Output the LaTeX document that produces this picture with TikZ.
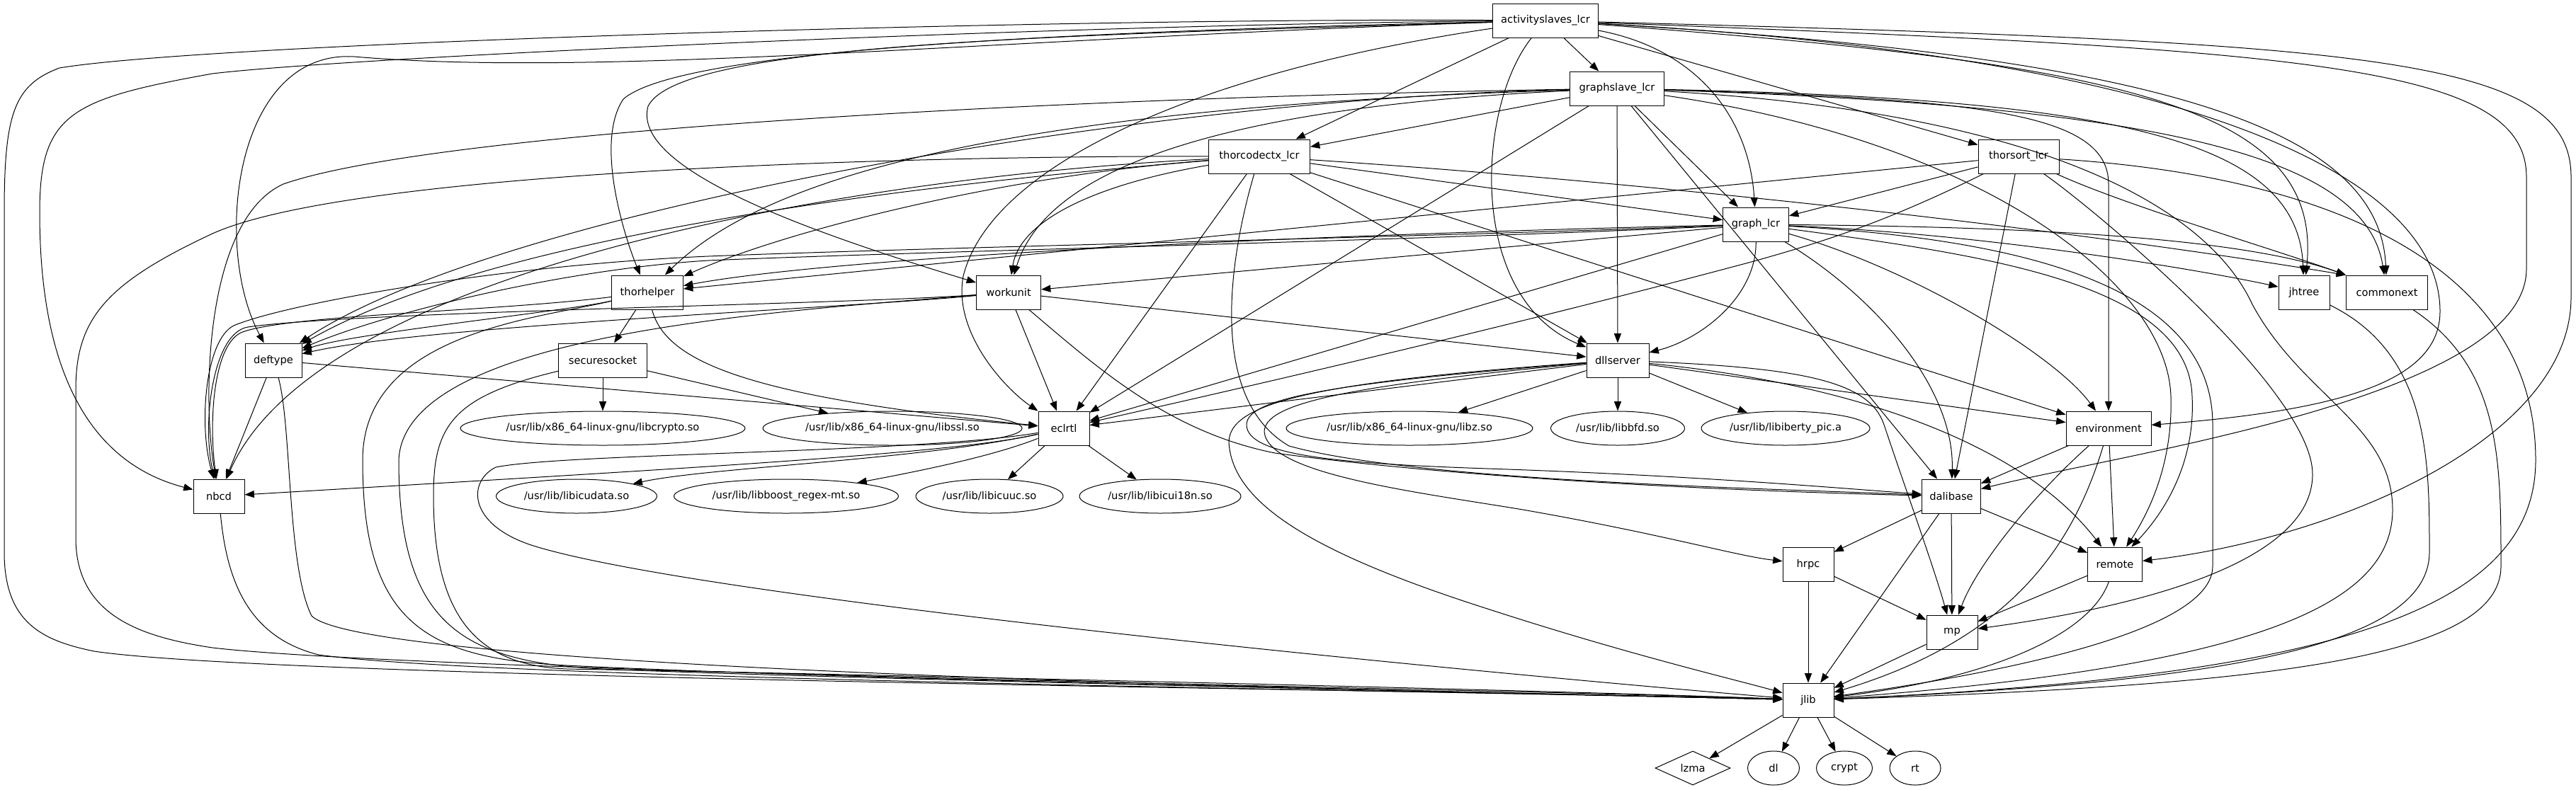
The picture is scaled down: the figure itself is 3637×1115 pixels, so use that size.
\documentclass[tikz,border=0pt]{standalone}
\usepackage{fontspec}
\newfontfamily\gvf{DejaVu Sans}
\usetikzlibrary{shapes.geometric,arrows.meta,calc}
\tikzset{
  gvbox/.style={draw, rectangle, line width=0.75pt, inner sep=0pt, minimum height=36pt, font=\gvf\fontsize{11}{13}\selectfont},
  gvell/.style={draw, ellipse, line width=0.75pt, inner sep=0pt, minimum height=36pt, font=\gvf\fontsize{11}{13}\selectfont},
  gvdia/.style={draw, diamond, aspect=2.2, line width=0.75pt, inner sep=0pt, minimum width=79.5pt, minimum height=36pt, font=\gvf\fontsize{11}{13}\selectfont},
  gvedge/.style={draw, line width=0.75pt, -{Triangle[length=10pt,width=7.5pt]}}
}
\begin{document}
\begin{tikzpicture}[x=0.75pt,y=-0.75pt]
\fill[white] (0,0) rectangle (3637,1115);
\useasboundingbox (0,0) rectangle (3637,1115);
% boxes
\node[gvbox, minimum width=111.75pt] (A)  at (2182,29)  {activityslaves\_lcr};
\node[gvbox, minimum width=99.75pt]  (G)  at (2283,125) {graphslave\_lcr};
\node[gvbox, minimum width=107.25pt] (TC) at (1778,221) {thorcodectx\_lcr};
\node[gvbox, minimum width=85.5pt]   (TS) at (2850,221) {thorsort\_lcr};
\node[gvbox, minimum width=69.75pt]  (GL) at (2479,317) {graph\_lcr};
\node[gvbox, minimum width=75.75pt]  (TH) at (914,413)  {thorhelper};
\node[gvbox, minimum width=68.25pt]  (WU) at (1424,413) {workunit};
\node[gvbox, minimum width=54pt]     (JH) at (3253,413) {jhtree};
\node[gvbox, minimum width=86.25pt]  (CE) at (3370,413) {commonext};
\node[gvbox, minimum width=60pt]     (DT) at (386,509)  {deftype};
\node[gvbox, minimum width=93.75pt]  (SS) at (851,509)  {securesocket};
\node[gvbox, minimum width=66pt]     (DS) at (2284,509) {dllserver};
\node[gvbox, minimum width=54pt]     (EC) at (1502,605) {eclrtl};
\node[gvbox, minimum width=90pt]     (ENV) at (2977,605) {environment};
\node[gvbox, minimum width=54pt]     (NB) at (309,701)  {nbcd};
\node[gvbox, minimum width=62.25pt]  (DB) at (2755,701) {dalibase};
\node[gvbox, minimum width=54pt]     (HR) at (2553,797) {hrpc};
\node[gvbox, minimum width=57.75pt]  (RM) at (2986,797) {remote};
\node[gvbox, minimum width=54pt]     (MP) at (2756,893) {mp};
\node[gvbox, minimum width=54pt]     (JL) at (2553,989) {jlib};
% ellipses
\node[gvell, minimum width=301.5pt] (crypto) at (851,605) {/usr/lib/x86\_64-linux-gnu/libcrypto.so};
\node[gvell, minimum width=274.5pt] (ssl) at (1260,605) {/usr/lib/x86\_64-linux-gnu/libssl.so};
\node[gvell, minimum width=261pt] (libz) at (1990,605) {/usr/lib/x86\_64-linux-gnu/libz.so};
\node[gvell, minimum width=141.75pt] (bfd) at (2284,605) {/usr/lib/libbfd.so};
\node[gvell, minimum width=178.5pt] (iberty) at (2521,605) {/usr/lib/libiberty\_pic.a};
\node[gvell, minimum width=170.25pt] (icudata) at (814,701) {/usr/lib/libicudata.so};
\node[gvell, minimum width=237.75pt] (boost) at (1110,701) {/usr/lib/libboost\_regex-mt.so};
\node[gvell, minimum width=156pt] (icuuc) at (1397,701) {/usr/lib/libicuuc.so};
\node[gvell, minimum width=171pt] (icui) at (1638,701) {/usr/lib/libicui18n.so};
\node[gvdia] (lzma) at (2390,1085) {lzma};
\node[gvell, minimum width=54.75pt] (dl) at (2504,1085) {dl};
\node[gvell, minimum width=59.25pt] (crypt) at (2604,1085) {crypt};
\node[gvell, minimum width=54pt] (rt) at (2704,1085) {rt};

% ---- activityslaves_lcr
\draw[gvedge] (A) -- (G);
\draw[gvedge] (A) -- (TC);
\draw[gvedge] (A) -- (TS);
\draw[gvedge] (A) .. controls (2400,70) and (2470,170) .. (GL);
\draw[gvedge] (A) .. controls (2085,150) and (2070,420) .. (DS);
\draw[gvedge] (A) .. controls (1700,100) and (1400,230) .. (1360,390) .. controls (1345,470) and (1420,550) .. (EC);
\draw[gvedge] (A) .. controls (1500,45) and (960,70) .. (880,140) .. controls (840,200) and (880,330) .. (TH);
\draw[gvedge] (A) .. controls (1500,50) and (960,60) .. (915,150) .. controls (890,240) and (1150,330) .. (WU);
\draw[gvedge] (A) .. controls (1400,55) and (850,110) .. (500,80) .. controls (330,70) and (300,350) .. (DT);
\draw[gvedge] (A) .. controls (1500,35) and (500,80) .. (300,104) .. controls (100,140) and (56,160) .. (56,300) .. controls (56,560) and (150,660) .. (NB);
\draw[gvedge] (A) .. controls (1500,25) and (300,60) .. (84,96) .. controls (20,120) and (6,160) .. (6,300) -- (6,780) .. controls (6,880) and (60,905) .. (133,920) .. controls (400,960) and (2100,975) .. (JL);
\draw[gvedge] (A) .. controls (3000,90) and (3280,150) .. (JH);
\draw[gvedge] (A) .. controls (3050,80) and (3360,180) .. (CE);
\draw[gvedge] (A) .. controls (3100,80) and (3445,250) .. (3445,440) .. controls (3445,540) and (3300,580) .. (ENV);
\draw[gvedge] (A) .. controls (3250,70) and (3567,90) .. (3567,250) -- (3567,380) .. controls (3567,560) and (3000,640) .. (DB);
\draw[gvedge] (A) .. controls (3350,60) and (3630,80) .. (3630,250) -- (3630,420) .. controls (3630,620) and (3300,760) .. (RM);

% ---- graphslave_lcr
\draw[gvedge] (G) -- (TC);
\draw[gvedge] (G) -- (GL);
\draw[gvedge] (G) -- (DS);
\draw[gvedge] (G) -- (EC);
\draw[gvedge] (G) -- (DB);
\draw[gvedge] (G) .. controls (1750,150) and (1480,230) .. (WU);
\draw[gvedge] (G) .. controls (1500,150) and (1100,230) .. (TH);
\draw[gvedge] (G) .. controls (1600,140) and (700,300) .. (DT);
\draw[gvedge] (G) .. controls (1400,140) and (600,190) .. (400,260) .. controls (290,310) and (285,560) .. (NB);
\draw[gvedge] (G) .. controls (2800,140) and (2977,160) .. (2977,260) -- (ENV);
\draw[gvedge] (G) .. controls (3000,140) and (3245,200) .. (JH);
\draw[gvedge] (G) .. controls (3050,150) and (3340,220) .. (CE);
\draw[gvedge] (G) .. controls (2800,200) and (3060,400) .. (3065,560) .. controls (3068,660) and (3030,730) .. (RM);
\draw[gvedge] (G) .. controls (2900,160) and (3120,300) .. (3180,430) .. controls (3250,560) and (3378,600) .. (3378,720) .. controls (3378,850) and (3200,940) .. (JL);

% ---- thorcodectx_lcr
\draw[gvedge] (TC) -- (GL);
\draw[gvedge] (TC) -- (DS);
\draw[gvedge] (TC) -- (EC);
\draw[gvedge] (TC) -- (ENV);
\draw[gvedge] (TC) .. controls (2300,255) and (2900,320) .. (CE.north west);
\draw[gvedge] (TC) .. controls (1400,250) and (1100,330) .. (TH);
\draw[gvedge] (TC) .. controls (1550,260) and (1440,310) .. (WU);
\draw[gvedge] (TC) .. controls (1300,260) and (700,330) .. (DT);
\draw[gvedge] (TC) .. controls (1200,250) and (450,380) .. (NB);
\draw[gvedge] (TC) .. controls (1740,350) and (1700,560) .. (1820,630) .. controls (2000,680) and (2500,690) .. (DB);
\draw[gvedge] (TC) .. controls (1300,220) and (500,240) .. (300,330) .. controls (150,400) and (107,450) .. (107,550) -- (107,760) .. controls (107,870) and (200,900) .. (300,915) .. controls (600,950) and (2200,975) .. (JL);

% ---- thorsort_lcr
\draw[gvedge] (TS) -- (GL);
\draw[gvedge] (TS) -- (DB);
\draw[gvedge] (TS) -- (TH);
\draw[gvedge] (TS) .. controls (2650,320) and (2560,345) .. (2480,368) .. controls (2100,470) and (1700,560) .. (EC);
\draw[gvedge] (TS) .. controls (3000,290) and (3220,355) .. (CE.north west);
\draw[gvedge] (TS) .. controls (2950,290) and (3265,550) .. (3265,670) .. controls (3265,800) and (3000,860) .. (MP);
\draw[gvedge] (TS) .. controls (3300,250) and (3580,380) .. (3580,650) .. controls (3580,860) and (3300,955) .. (JL);

% ---- graph_lcr
\draw[gvedge] (GL) .. controls (1900,330) and (1200,360) .. (TH);
\draw[gvedge] (GL) -- (WU);
\draw[gvedge] (GL) .. controls (2000,340) and (1300,355) .. (1000,368) .. controls (800,380) and (550,440) .. (DT);
\draw[gvedge] (GL) .. controls (2000,335) and (1300,350) .. (1000,362) .. controls (700,375) and (400,430) .. (330,460) .. controls (290,480) and (280,600) .. (NB);
\draw[gvedge] (GL) .. controls (2480,420) and (2400,480) .. (DS);
\draw[gvedge] (GL) -- (EC);
\draw[gvedge] (GL) .. controls (2650,420) and (2760,550) .. (DB);
\draw[gvedge] (GL) .. controls (2700,380) and (2900,500) .. (ENV);
\draw[gvedge] (GL) .. controls (2800,360) and (3090,400) .. (3095,560) .. controls (3100,660) and (3050,730) .. (RM);
\draw[gvedge] (GL) .. controls (2900,340) and (3124,420) .. (3124,600) -- (3124,800) .. controls (3124,880) and (2900,940) .. (JL);
\draw[gvedge] (GL) .. controls (2800,330) and (3100,380) .. (JH);
\draw[gvedge] (GL) .. controls (2800,320) and (3150,330) .. (CE.north west);

% ---- workunit
\draw[gvedge] (WU) .. controls (1200,435) and (600,460) .. (DT);
\draw[gvedge] (WU) .. controls (1200,430) and (500,440) .. (350,462) .. controls (300,470) and (285,600) .. (NB);
\draw[gvedge] (WU) -- (DS);
\draw[gvedge] (WU) -- (EC);
\draw[gvedge] (WU) .. controls (1550,520) and (1650,610) .. (1800,640) .. controls (2100,680) and (2500,695) .. (DB);
\draw[gvedge] (WU) .. controls (1100,440) and (570,470) .. (563,650) .. controls (563,880) and (650,935) .. (850,945) .. controls (1200,960) and (2200,980) .. (JL);

% ---- thorhelper
\draw[gvedge] (TH) -- (SS);
\draw[gvedge] (TH) .. controls (800,440) and (500,470) .. (DT);
\draw[gvedge] (TH) .. controls (700,440) and (400,445) .. (340,470) .. controls (300,490) and (295,600) .. (NB);
\draw[gvedge] (TH) .. controls (940,510) and (1050,560) .. (EC);
\draw[gvedge] (TH) .. controls (760,450) and (512,470) .. (512,650) .. controls (512,880) and (600,930) .. (800,940) .. controls (1200,960) and (2200,980) .. (JL);

% ---- deftype
\draw[gvedge] (DT) -- (NB);
\draw[gvedge] (DT) -- (EC);
\draw[gvedge] (DT) .. controls (412,600) and (405,800) .. (440,870) .. controls (520,950) and (2000,975) .. (JL);

% ---- nbcd
\draw[gvedge] (NB) .. controls (320,820) and (350,900) .. (450,925) .. controls (700,960) and (2000,975) .. (JL);

% ---- securesocket
\draw[gvedge] (SS) -- (crypto);
\draw[gvedge] (SS) -- (ssl);
\draw[gvedge] (SS) .. controls (640,560) and (612,600) .. (612,700) .. controls (612,880) and (680,940) .. (800,945) .. controls (1100,950) and (2200,975) .. (JL);

% ---- eclrtl
\draw[gvedge] (EC) .. controls (1350,640) and (1000,660) .. (NB);
\draw[gvedge] (EC) .. controls (1300,650) and (1000,660) .. (icudata);
\draw[gvedge] (EC) .. controls (1400,645) and (1300,665) .. (boost);
\draw[gvedge] (EC) -- (icuuc);
\draw[gvedge] (EC) -- (icui);
\draw[gvedge] (EC) .. controls (1300,640) and (800,640) .. (700,660) .. controls (660,680) and (660,740) .. (750,770) .. controls (1000,850) and (2200,960) .. (JL);

% ---- dllserver
\draw[gvedge] (DS) -- (EC);
\draw[gvedge] (DS) -- (libz);
\draw[gvedge] (DS) -- (bfd);
\draw[gvedge] (DS) -- (iberty);
\draw[gvedge] (DS) -- (ENV);
\draw[gvedge] (DS) .. controls (1900,540) and (1760,560) .. (1760,600) .. controls (1760,645) and (1900,655) .. (2100,662) .. controls (2400,672) and (2600,690) .. (DB);
\draw[gvedge] (DS) .. controls (1900,545) and (1785,570) .. (1785,610) .. controls (1790,670) and (2000,695) .. (2150,720) .. controls (2350,755) and (2450,785) .. (HR);
\draw[gvedge] (DS) .. controls (1850,540) and (1735,570) .. (1735,625) .. controls (1740,710) and (1850,780) .. (2100,860) .. controls (2300,925) and (2450,960) .. (JL);
\draw[gvedge] (DS) .. controls (2600,540) and (2850,620) .. (RM);
\draw[gvedge] (DS) .. controls (2550,520) and (2640,540) .. (2660,600) .. controls (2690,690) and (2730,800) .. (MP);

% ---- environment
\draw[gvedge] (ENV) -- (DB);
\draw[gvedge] (ENV) -- (RM);
\draw[gvedge] (ENV) .. controls (2870,700) and (2790,800) .. (MP);
\draw[gvedge] (ENV) .. controls (2930,760) and (2850,900) .. (JL);

% ---- dalibase
\draw[gvedge] (DB) -- (HR);
\draw[gvedge] (DB) -- (RM);
\draw[gvedge] (DB) -- (MP);
\draw[gvedge] (DB) -- (JL);

% ---- hrpc, remote, mp
\draw[gvedge] (HR) -- (MP);
\draw[gvedge] (HR) -- (JL);
\draw[gvedge] (RM) -- (MP);
\draw[gvedge] (RM) .. controls (2950,900) and (2800,960) .. (JL);
\draw[gvedge] (MP) -- (JL);

% ---- jhtree, commonext
\draw[gvedge] (JH) .. controls (3430,500) and (3430,650) .. (3430,780) .. controls (3430,920) and (3100,965) .. (JL);
\draw[gvedge] (CE) .. controls (3531,520) and (3531,650) .. (3531,800) .. controls (3531,930) and (3200,968) .. (JL);

% ---- jlib
\draw[gvedge] (JL) -- (lzma);
\draw[gvedge] (JL) -- (dl);
\draw[gvedge] (JL) -- (crypt);
\draw[gvedge] (JL) -- (rt);
\end{tikzpicture}
\end{document}
